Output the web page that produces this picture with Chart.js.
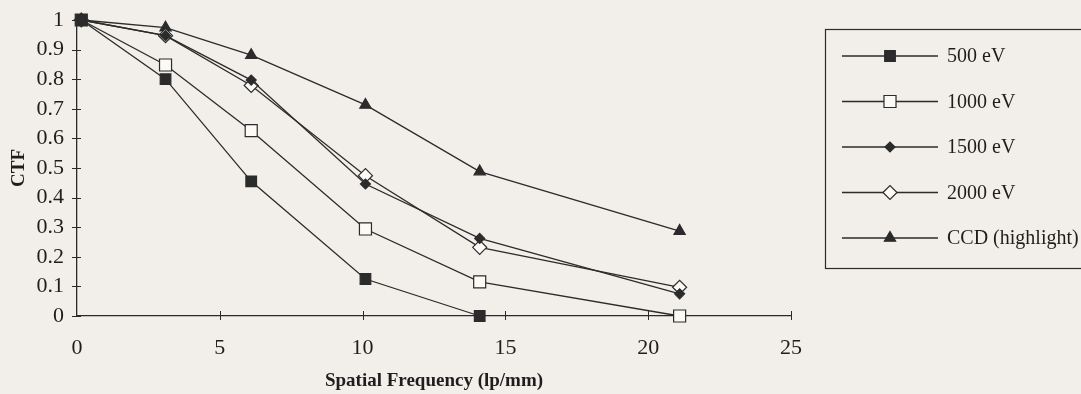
<!DOCTYPE html>
<html>
<head>
<meta charset="utf-8">
<script src="https://cdn.jsdelivr.net/npm/chart.js@4/dist/chart.umd.min.js"></script>
<style>
  html, body { margin: 0; padding: 0; background: #f2eee9; }
  #wrap { position: relative; width: 1081px; height: 394px; }
</style>
</head>
<body>
<div id="wrap"><canvas id="ctfChart" width="1081" height="394"></canvas></div>
<script>
// =========================
// Data
// =========================
const freq = [0.15, 3.1, 6.1, 10.1, 14.1, 21.1];   // lp/mm
const ctf500  = [1.0, 0.80, 0.455, 0.125, 0.0];
const ctf1000 = [1.0, 0.848, 0.626, 0.294, 0.115, 0.0];
const ctf1500 = [1.0, 0.947, 0.797, 0.446, 0.262, 0.075];
const ctf2000 = [1.0, 0.947, 0.779, 0.474, 0.232, 0.097];
const ctfCCD  = [1.0, 0.974, 0.881, 0.713, 0.488, 0.287];

const seriesLabels = ['500 eV', '1000 eV', '1500 eV', '2000 eV', 'CCD (highlight)'];
const xTicks = [0, 5, 10, 15, 20, 25];

const ink = '#2b2b2b';
const serif = "'Liberation Serif', 'Times New Roman', serif";

function pts(ys) {
    return ys.map((y, i) => ({ x: freq[i], y: y }));
}

function makeSet(label, ys, style, radius, filled) {
    return {
        label: label,
        data: pts(ys),
        borderColor: ink,
        borderWidth: 1.3,
        pointStyle: style,
        pointRadius: radius,
        pointHoverRadius: radius,
        pointBackgroundColor: filled ? ink : '#fbfaf7',
        pointBorderColor: ink,
        pointBorderWidth: 1.2,
        tension: 0,
        clip: false
    };
}

// =========================
// Cross ticks on both axes
// =========================
const crossTicks = {
    id: 'crossTicks',
    afterDraw(chart) {
        const ctx = chart.ctx;
        const xs = chart.scales.x, ys = chart.scales.y;
        ctx.save();
        ctx.strokeStyle = ink;
        ctx.lineWidth = 1;
        ctx.beginPath();
        ys.ticks.forEach(t => {
            const py = Math.round(ys.getPixelForValue(t.value)) + 0.5;
            ctx.moveTo(xs.left - 5, py);
            ctx.lineTo(xs.left + 4, py);
        });
        xTicks.forEach(v => {
            if (v === 0) return;
            const px = Math.round(xs.getPixelForValue(v)) + 0.5;
            ctx.moveTo(px, ys.bottom - 5);
            ctx.lineTo(px, ys.bottom + 4);
        });
        ctx.stroke();
        ctx.restore();
    }
};

// =========================
// Boxed legend on the right
// =========================
const boxLegend = {
    id: 'boxLegend',
    afterDraw(chart) {
        const ctx = chart.ctx;
        const left = 825, top = 29, bottom = 268;
        ctx.save();
        ctx.strokeStyle = ink;
        ctx.lineWidth = 1.2;
        ctx.strokeRect(left + 0.5, top + 0.5, 300, bottom - top);
        ctx.font = '20px ' + serif;
        ctx.textBaseline = 'middle';
        chart.data.datasets.forEach((ds, i) => {
            const y = 56 + i * 45.5;
            ctx.beginPath();
            ctx.lineWidth = 1.3;
            ctx.strokeStyle = ink;
            ctx.moveTo(842, y);
            ctx.lineTo(938, y);
            ctx.stroke();
            ctx.fillStyle = ds.pointBackgroundColor;
            ctx.lineWidth = ds.pointBorderWidth;
            Chart.helpers.drawPoint(ctx, {
                pointStyle: ds.pointStyle,
                radius: ds.pointRadius,
                borderWidth: ds.pointBorderWidth,
                rotation: 0
            }, 890, y);
            ctx.fillStyle = '#1e1e1e';
            ctx.fillText(ds.label, 947, y + 1);
        });
        ctx.restore();
    }
};

const chartCtx = document.getElementById('ctfChart').getContext('2d');
const ctfChart = new Chart(chartCtx, {
    type: 'line',
    data: {
        datasets: [
            makeSet(seriesLabels[0], ctf500, 'rect', 7.5, true),
            makeSet(seriesLabels[1], ctf1000, 'rect', 8.5, false),
            makeSet(seriesLabels[2], ctf1500, 'rectRot', 5, true),
            makeSet(seriesLabels[3], ctf2000, 'rectRot', 7, false),
            makeSet(seriesLabels[4], ctfCCD, 'triangle', 6.5, true)
        ]
    },
    options: {
        responsive: false,
        animation: false,
        layout: { padding: { top: 20, right: 290, left: 0, bottom: 0 } },
        plugins: {
            legend: { display: false },
            tooltip: { enabled: false }
        },
        scales: {
            x: {
                type: 'linear',
                min: 0,
                max: 25,
                afterBuildTicks(scale) { scale.ticks = xTicks.map(v => ({ value: v })); },
                afterFit(scale) { scale.height = 78; },
                grid: { drawOnChartArea: false, drawTicks: false },
                border: { color: ink, width: 1.3 },
                ticks: { color: '#1e1e1e', font: { family: serif, size: 22 }, padding: 19, maxRotation: 0, autoSkip: false },
                title: {
                    display: true,
                    text: 'Spatial Frequency (lp/mm)',
                    color: '#1e1e1e',
                    font: { family: serif, size: 19, weight: 'bold' },
                    padding: { top: 0, bottom: 2 }
                }
            },
            y: {
                min: 0,
                max: 1,
                ticks: {
                    stepSize: 0.1,
                    autoSkip: false,
                    color: '#1e1e1e',
                    font: { family: serif, size: 22 },
                    padding: 13,
                    callback: v => String(Math.round(v * 10) / 10)
                },
                afterFit(scale) {
                    scale.width = 77;
                    scale.paddingTop = 0;
                    scale.paddingBottom = 0;
                },
                grid: { drawOnChartArea: false, drawTicks: false },
                border: { color: ink, width: 1.3 },
                title: {
                    display: true,
                    text: 'CTF',
                    color: '#1e1e1e',
                    font: { family: serif, size: 19, weight: 'bold' },
                    padding: 8
                }
            }
        }
    },
    plugins: [crossTicks, boxLegend]
});
</script>
</body>
</html>
